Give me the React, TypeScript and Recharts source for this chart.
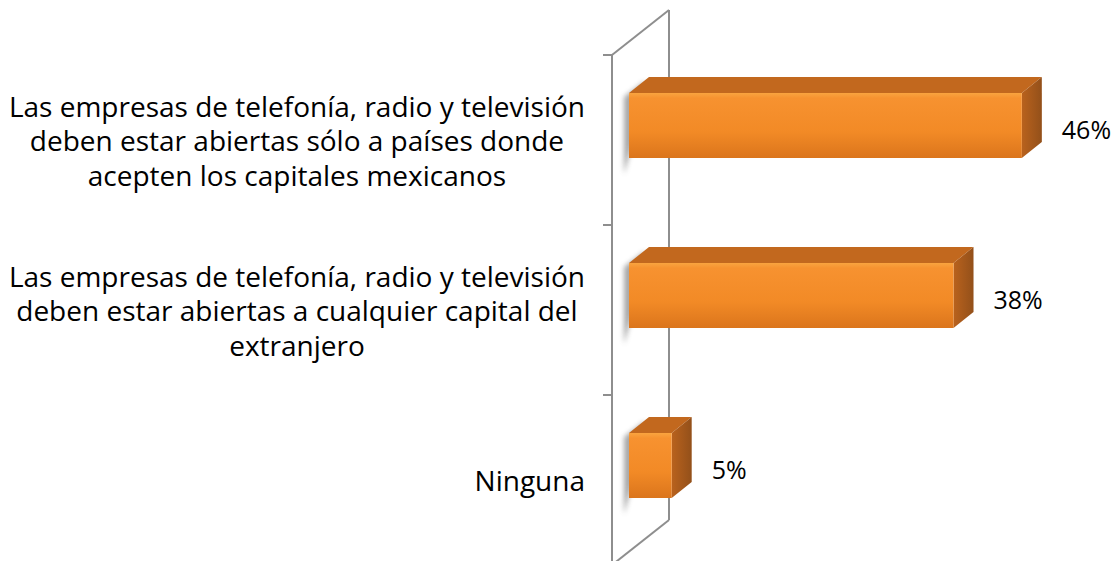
import * as R from "recharts";
import { BarChart, Bar, XAxis, YAxis, LabelList } from "recharts";

const categories = [
  "Las empresas de telefonía, radio y televisión|deben estar abiertas sólo a países donde|acepten los capitales mexicanos",
  "Las empresas de telefonía, radio y televisión|deben estar abiertas a cualquier capital del|extranjero",
  "Ninguna",
];
const values = [46, 38, 5];
const labels = ["46%", "38%", "5%"];

const data = categories.map((name, i) => ({ name, value: values[i], label: labels[i] }));

const W = 1120;
const H = 565;
const margin = { top: 55, right: 81, bottom: 0, left: 0 };
const axisWidth = 612;

// 3D projection offsets
const DX = 17;
const DY = -15;
const DEPTH_X = 20;
const DEPTH_Y = -16;
const WALL_X = 57;
const WALL_Y = -45;

const FONT = "'Open Sans', 'Noto Sans', sans-serif";
const CAT_SIZE = 28;

let ctx: CanvasRenderingContext2D | null = null;
function measure(s: string) {
  if (!ctx) ctx = document.createElement("canvas").getContext("2d");
  if (!ctx) return s.length * CAT_SIZE * 0.46;
  ctx.font = `${CAT_SIZE}px ${FONT}`;
  return ctx.measureText(s).width;
}

// multi-line labels: lines centred inside a block that is right-aligned to the axis
function CategoryTick(props: any) {
  const { x, y, payload } = props;
  const lines: string[] = String(payload.value).split("|");
  const lh = 34.5;
  const y0 = y - ((lines.length - 1) * lh) / 2;
  const maxW = Math.max(...lines.map(measure));
  const cx = x - maxW / 2;
  return (
    <text x={cx} y={y0} textAnchor="middle" fontFamily={FONT} fontSize={CAT_SIZE} fill="#000">
      {lines.map((l, i) => (
        <tspan key={i} x={cx} y={y0 + i * lh} dominantBaseline="central">
          {l}
        </tspan>
      ))}
    </text>
  );
}

function Box3D(props: any) {
  const { x, y, width, height } = props;
  const fx = x + DX;
  const fy = y + DY;
  const w = Math.max(width, 0);
  const h = height;
  return (
    <g>
      <polygon
        points={`${fx - 5},${fy + h + 16} ${fx - 5},${fy + 4} ${fx + 16},${fy - 12} ${fx + 16},${fy + 8}`}
        fill="#8a8a8a"
        opacity={0.75}
        filter="url(#soft)"
      />
      <polygon
        points={`${fx},${fy} ${fx + DEPTH_X},${fy + DEPTH_Y} ${fx + w + DEPTH_X},${fy + DEPTH_Y} ${fx + w},${fy}`}
        fill="#C2681E"
      />
      <polygon
        points={`${fx + w},${fy} ${fx + w + DEPTH_X},${fy + DEPTH_Y} ${fx + w + DEPTH_X},${fy + h + DEPTH_Y} ${fx + w},${fy + h}`}
        fill="url(#side)"
      />
      <rect x={fx} y={fy} width={w} height={h} fill="url(#front)" />
    </g>
  );
}

function ValueLabel(props: any) {
  const { x, y, width, height, value } = props;
  return (
    <text
      x={x + width + DX + DEPTH_X + 20}
      y={y + DY + height / 2 + 3}
      dominantBaseline="central"
      fontFamily={FONT}
      fontSize={25}
      fill="#000"
    >
      {value}
    </text>
  );
}

function Wall() {
  const hook = (R as any).usePlotArea || (R as any).useOffset;
  const area = hook ? hook() : null;
  const L = area ? (area.x ?? area.left) : margin.left + axisWidth;
  const T = area ? (area.y ?? area.top) : margin.top;
  const PH = area ? area.height : H - margin.top - margin.bottom;
  const n = categories.length;
  const stroke = "#8e8e8e";
  return (
    <g>
      <line x1={L} y1={T} x2={L} y2={T + PH} stroke={stroke} strokeWidth={2} />
      <line x1={L + WALL_X} y1={T + WALL_Y} x2={L + WALL_X} y2={T + PH + WALL_Y} stroke={stroke} strokeWidth={2} />
      <line x1={L} y1={T} x2={L + WALL_X} y2={T + WALL_Y} stroke={stroke} strokeWidth={2} />
      <line x1={L} y1={T + PH} x2={L + WALL_X} y2={T + PH + WALL_Y} stroke={stroke} strokeWidth={2} />
      {Array.from({ length: n + 1 }).map((_, i) => (
        <line key={i} x1={L - 9} y1={T + (i * PH) / n} x2={L} y2={T + (i * PH) / n} stroke={stroke} strokeWidth={2} />
      ))}
    </g>
  );
}

export default function App() {
  return (
    <div style={{ position: "absolute", left: 0, top: 0, width: W, height: 561, overflow: "hidden", background: "#fff" }}>
      <BarChart width={W} height={H} data={data} layout="vertical" margin={margin} barCategoryGap={0}>
        <defs>
          <linearGradient id="front" x1="0" y1="0" x2="0" y2="1">
            <stop offset="0" stopColor="#F9A43F" />
            <stop offset="0.08" stopColor="#F79230" />
            <stop offset="0.6" stopColor="#F28A26" />
            <stop offset="1" stopColor="#DB751C" />
          </linearGradient>
          <linearGradient id="side" x1="0" y1="0" x2="1" y2="0">
            <stop offset="0" stopColor="#B9621D" />
            <stop offset="1" stopColor="#93501A" />
          </linearGradient>
          <filter id="soft" x="-50%" y="-50%" width="200%" height="200%">
            <feGaussianBlur stdDeviation="2.5" />
          </filter>
        </defs>
        <Wall />
        <XAxis type="number" domain={[0, 50]} hide />
        <YAxis
          type="category"
          dataKey="name"
          width={axisWidth}
          axisLine={false}
          tickLine={false}
          tickSize={0}
          tickMargin={27}
          interval={0}
          tick={<CategoryTick />}
        />
        <Bar dataKey="value" barSize={65} shape={<Box3D />} isAnimationActive={false}>
          <LabelList dataKey="label" content={<ValueLabel />} />
        </Bar>
      </BarChart>
    </div>
  );
}
